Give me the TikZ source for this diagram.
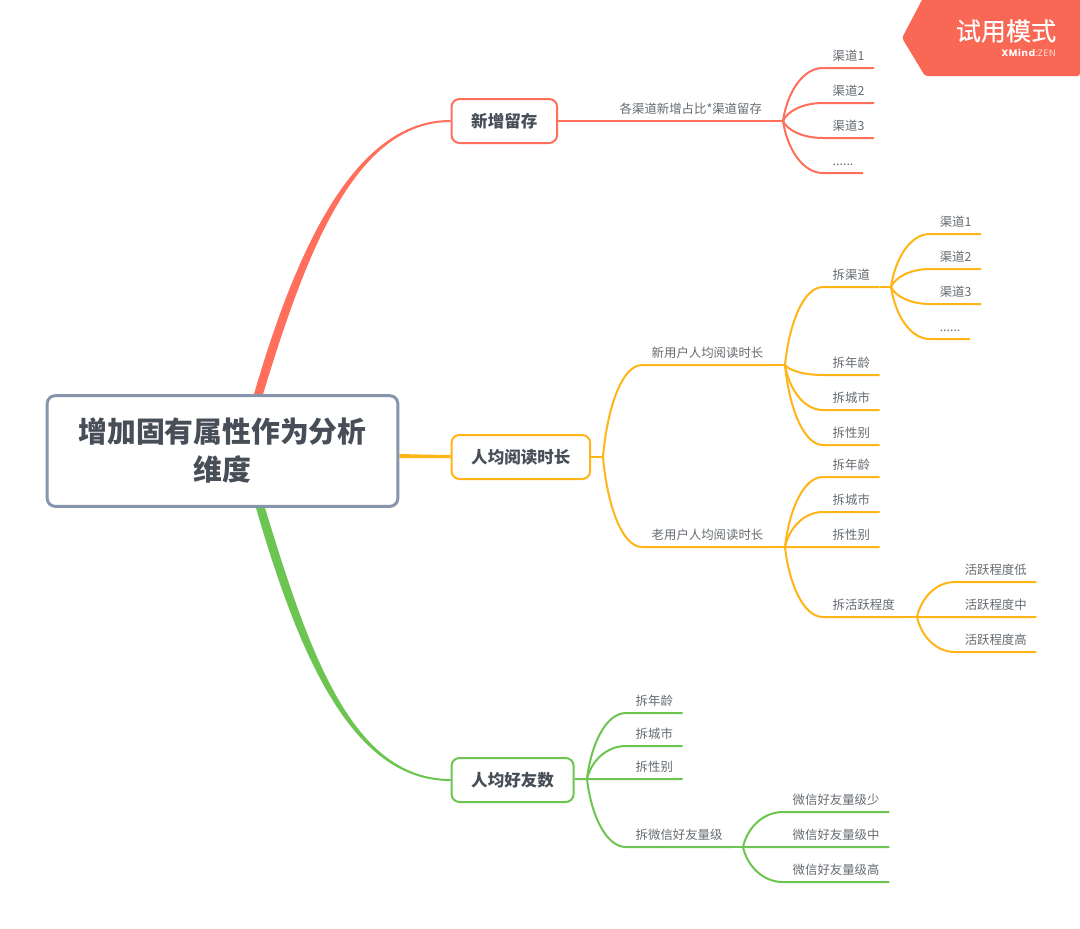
\documentclass[tikz,border=0pt]{standalone}
\usepackage{fontspec}
\setmainfont{Noto Sans CJK SC}
\newfontfamily\badgefont[FakeBold=0.5]{Noto Sans CJK SC}
\newfontfamily\brandfont[LetterSpace=8]{Poppins}
\usepackage{xcolor}
\usetikzlibrary{positioning,calc,backgrounds}
\definecolor{rootline}{HTML}{8794AE}
\definecolor{ink}{HTML}{474E57}
\definecolor{soft}{HTML}{666B70}
\definecolor{coral}{HTML}{FF6F5C}
\definecolor{amber}{HTML}{FFB417}
\definecolor{leaf}{HTML}{6CC551}
\definecolor{badge}{HTML}{F96854}
\newcommand{\forkto}[3]{\draw[twig,#1] (#2) .. controls ($(#2)!.52!(#2|-#3.south west)+(4,0)$) and ($(#3.south west)!.52!(#2|-#3.south west)$) .. (#3.south west) -- (#3.south east);}

\begin{document}
\begin{tikzpicture}[x=.75pt,y=-.75pt,node distance=6.75pt,
   rootbox/.style={draw=rootline,fill=white,line width=2.2pt,rounded corners=6pt,minimum width=263pt,minimum height=83pt,align=center,font=\fontsize{21.6}{28.5}\selectfont\bfseries,text=ink},
   topic/.style={draw=#1,fill=white,line width=1.5pt,rounded corners=6pt,minimum height=33pt,inner xsep=14.8pt,anchor=west,font=\fontsize{12.4}{15}\selectfont\bfseries,text=ink},
   item/.style={minimum height=19.5pt,text height=8.4pt,text depth=.4pt,inner xsep=7.3pt,inner ysep=0pt,outer sep=0pt,font=\fontsize{9.3}{11}\selectfont,text=soft},
   twig/.style={line width=1.5pt}]
  \useasboundingbox (0,0) rectangle (1080,928);

  % root and the three topics
  \node[rootbox] (root) at (222.5,451) {增加固有属性作为分析\\维度};
  \node[topic=coral] (retain) at (450.5,121) {新增留存};
  \node[topic=amber] (read) at (450.5,457) {人均阅读时长};
  \node[topic=leaf] (friend) at (450.5,780) {人均好友数};

  \begin{scope}[on background layer]
    \coordinate (retainL) at ($(root.north)+(30,5)$);
    \coordinate (retainR) at ($(root.north)+(39,5)$);
    \coordinate (friendL) at ($(root.south)+(32,-5)$);
    \coordinate (friendR) at ($(root.south)+(41,-5)$);
    \fill[coral] (retainL) .. controls (296,248) and (355,120) .. ($(retain.west)+(0,-1)$) -- ($(retain.west)+(0,1)$) .. controls (355,122) and (306,252) .. (retainR) -- cycle;
    \fill[amber] ($(root.east)+(0,3)$) .. controls (420,454.5) .. ($(read.west)+(0,-2)$) -- ($(read.west)+(0,1)$) .. controls (420,458) .. ($(root.east)+(0,7)$) -- cycle;
    \fill[leaf] (friendL) .. controls (299,657) and (352,781) .. ($(friend.west)+(0,1)$) -- ($(friend.west)+(0,-1)$) .. controls (352,779) and (309,653) .. (friendR) -- cycle;
  \end{scope}

  % coral branch
  \node[item,anchor=south west] (share) at (610,121) {各渠道新增占比*渠道留存};
  \coordinate (shareHub) at (783,121);
  \node[item,anchor=south west] (chanA) at (823,68) {渠道1};
  \node[item,below=of chanA.south west,anchor=north west] (chanB) {渠道2};
  \node[item,below=of chanB.south west,anchor=north west] (chanC) {渠道3};
  \node[item,below=of chanC.south west,anchor=north west] (chanD) {......};
  \draw[twig,coral] (retain) -- (shareHub);
  \foreach \tip in {chanA,chanB,chanC,chanD} {\forkto{coral}{shareHub}{\tip}}

  % amber branch
  \coordinate (readHub) at (603,457);
  \node[item,anchor=south west] (newUser) at (642,365) {新用户人均阅读时长};
  \node[item,anchor=south west] (oldUser) at (642,547) {老用户人均阅读时长};
  \coordinate (newHub) at (785,365);
  \coordinate (oldHub) at (785,547);
  \draw[twig,amber] (read) -- (readHub);
  \foreach \tip in {newUser,oldUser} {\forkto{amber}{readHub}{\tip}}
  \draw[twig,amber] (newUser.south east) -- (newHub);
  \draw[twig,amber] (oldUser.south east) -- (oldHub);

  \node[item,anchor=south west] (newChan) at (823,287) {拆渠道};
  \node[item,anchor=south west] (newAge) at (823,375) {拆年龄};
  \node[item,below=of newAge.south west,anchor=north west] (newCity) {拆城市};
  \node[item,below=of newCity.south west,anchor=north west] (newSex) {拆性别};
  \foreach \tip in {newChan,newAge,newCity,newSex} {\forkto{amber}{newHub}{\tip}}

  \coordinate (chanHub) at (891,287);
  \node[item,anchor=south west] (subA) at (930,234) {渠道1};
  \node[item,below=of subA.south west,anchor=north west] (subB) {渠道2};
  \node[item,below=of subB.south west,anchor=north west] (subC) {渠道3};
  \node[item,below=of subC.south west,anchor=north west] (subD) {......};
  \draw[twig,amber] (newChan.south east) -- (chanHub);
  \foreach \tip in {subA,subB,subC,subD} {\forkto{amber}{chanHub}{\tip}}

  \node[item,anchor=south west] (oldAge) at (823,477) {拆年龄};
  \node[item,below=of oldAge.south west,anchor=north west] (oldCity) {拆城市};
  \node[item,below=of oldCity.south west,anchor=north west] (oldSex) {拆性别};
  \node[item,anchor=south west] (oldAct) at (823,617) {拆活跃程度};
  \foreach \tip in {oldAge,oldCity,oldSex,oldAct} {\forkto{amber}{oldHub}{\tip}}

  \coordinate (actHub) at (917,617);
  \node[item,anchor=south west] (actLow) at (955,582) {活跃程度低};
  \node[item,below=of actLow.south west,anchor=north west] (actMid) {活跃程度中};
  \node[item,below=of actMid.south west,anchor=north west] (actHigh) {活跃程度高};
  \draw[twig,amber] (oldAct.south east) -- (actHub);
  \foreach \tip in {actLow,actMid,actHigh} {\forkto{amber}{actHub}{\tip}}

  % green branch
  \coordinate (friendHub) at (587,779);
  \node[item,anchor=south west] (frAge) at (626,713) {拆年龄};
  \node[item,below=5.25pt of frAge.south west,anchor=north west] (frCity) {拆城市};
  \node[item,below=5.25pt of frCity.south west,anchor=north west] (frSex) {拆性别};
  \node[item,anchor=south west] (frWx) at (626,847) {拆微信好友量级};
  \draw[twig,leaf] (friend) -- (friendHub);
  \foreach \tip in {frAge,frCity,frSex,frWx} {\forkto{leaf}{friendHub}{\tip}}

  \coordinate (wxHub) at (743,847);
  \node[item,anchor=south west] (wxLow) at (783,812) {微信好友量级少};
  \node[item,below=of wxLow.south west,anchor=north west] (wxMid) {微信好友量级中};
  \node[item,below=of wxMid.south west,anchor=north west] (wxHigh) {微信好友量级高};
  \draw[twig,leaf] (frWx.south east) -- (wxHub);
  \foreach \tip in {wxLow,wxMid,wxHigh} {\forkto{leaf}{wxHub}{\tip}}

  % trial badge
  \fill[badge,rounded corners=2pt] (924,-4) -- (902,38) -- (925,76) -- (1080,76) -- (1080,-4) -- cycle;
  \node[text=white,anchor=center,font=\fontsize{18.8}{22}\badgefont] (trial) at (1006,31) {试用模式};
  \node[text=white,anchor=east,inner sep=0pt,font=\fontsize{7}{8}\brandfont] (brand) at (1056,53) {\textbf{XMind}:{\color{white!75!badge}ZEN}};
\end{tikzpicture}
\end{document}
